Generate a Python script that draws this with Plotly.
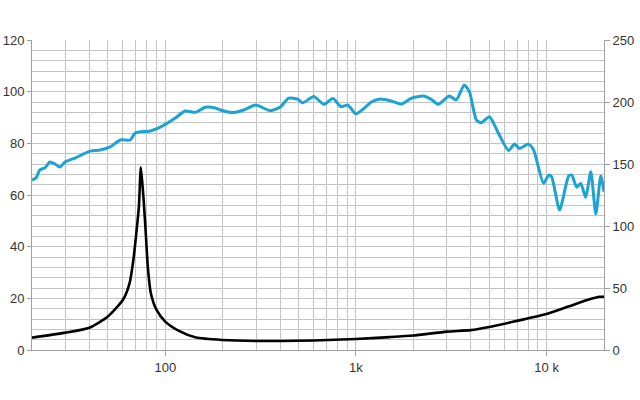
import plotly.graph_objects as go

# SPL response (dB, left axis)
spl_freq = [20, 21, 22, 23.4, 24.8, 26.4, 28, 29.8, 33.6, 40.3, 45.5, 51.4, 58, 65.5, 69.6,
            83.4, 94.1, 113, 127, 144, 162, 183, 195, 225, 258, 298, 357, 403, 444, 495,
            526, 601, 679, 757, 834, 908, 1000, 1102, 1199, 1321, 1528, 1725, 1946, 2253,
            2483, 2704, 3085, 3358, 3700, 3935, 4285, 4550, 5012, 5588, 6310, 6790, 7215,
            8040, 8550, 9640, 10250, 10620, 11700, 13060, 13550, 14390, 15100, 16040,
            17050, 18120, 19240, 20000]
spl_db = [65.8, 66.6, 69.7, 70.5, 72.8, 72.0, 70.8, 72.8, 74.3, 77.0, 77.4, 78.6, 81.3, 81.3, 84.0,
          84.8, 86.3, 89.8, 92.5, 92.0, 94.0, 93.7, 92.9, 91.9, 92.9, 94.8, 92.6, 94.2, 97.5, 97.1,
          95.7, 98.1, 95.1, 97.4, 94.2, 94.8, 91.4, 93.5, 95.9, 97.1, 96.4, 95.2, 97.4, 98.3,
          97.0, 95.1, 98.3, 96.8, 102.6, 100.0, 89.0, 88.0, 90.3, 83.9, 77.2, 79.7, 78.0,
          79.7, 77.4, 64.5, 67.7, 67.1, 54.2, 67.4, 67.7, 63.0, 64.5, 59.1,
          69.0, 52.6, 67.4, 61.3]

# Impedance (ohm, right axis)
imp_freq = [20, 30, 40, 50, 60, 65, 68, 70.5, 72.7, 74.5, 77, 79, 81, 84, 90, 100, 118, 145,
            200, 300, 400, 600, 1000, 1500, 2000, 3000, 4000, 5000, 7000, 10000, 13000,
            16500, 19000, 20000]
imp_ohm = [10.0, 14.0, 18.0, 27.0, 40.5, 54.0, 72.5, 94.4, 115.4, 147.3, 121.0, 94.4, 67.1,
           45.8, 32.3, 22.9, 15.4, 10.0, 8.1, 7.3, 7.3, 7.7, 8.9, 10.4, 11.7, 14.8, 16.0, 18.5,
           23.5, 29.0, 35.0, 40.5, 42.9, 42.9]

left_ticks = [0, 20, 40, 60, 80, 100, 120]
right_ticks = [0, 50, 100, 150, 200, 250]
x_tickvals = [100, 1000, 10000]
x_ticktext = ["100", "1k", "10 k"]
x_minor = [20, 30, 40, 50, 60, 70, 80, 90, 200, 300, 400, 500, 600, 700, 800, 900,
           2000, 3000, 4000, 5000, 6000, 7000, 8000, 9000, 20000]

grid = "#c4c4c4"
axis_col = "#a0a0a0"
font = dict(family="Liberation Sans, Arial, sans-serif", size=13, color="#333333")

fig = go.Figure()
fig.add_trace(go.Scatter(x=spl_freq, y=spl_db, mode="lines",
                         line=dict(color="#1ba3d3", width=3, shape="spline", smoothing=0.6),
                         showlegend=False, yaxis="y"))
fig.add_trace(go.Scatter(x=imp_freq, y=imp_ohm, mode="lines",
                         line=dict(color="#000000", width=2.6, shape="spline", smoothing=0.6),
                         showlegend=False, yaxis="y2"))

fig.update_layout(
    width=640, height=400,
    margin=dict(l=32, r=36, t=40, b=50),
    paper_bgcolor="white", plot_bgcolor="white",
    font=font,
    xaxis=dict(type="log", range=[1.30103, 4.30103], automargin=False,
               tickvals=x_tickvals, ticktext=x_ticktext,
               showgrid=True, gridcolor=grid, gridwidth=1,
               showline=True, linecolor=axis_col, linewidth=1,
               ticks="outside", ticklen=5, tickcolor=axis_col,
               minor=dict(tickvals=x_minor, showgrid=True, gridcolor=grid, gridwidth=1, ticks=""),
               zeroline=False),
    yaxis=dict(range=[0, 120], tickvals=left_ticks, automargin=False,
               showgrid=True, gridcolor=grid, gridwidth=1,
               showline=True, linecolor=axis_col, linewidth=1,
               ticks="outside", ticklen=4, tickcolor=axis_col,
               minor=dict(dtick=4, showgrid=True, gridcolor=grid, gridwidth=1, ticks=""),
               zeroline=False),
    yaxis2=dict(range=[0, 250], tickvals=right_ticks, overlaying="y", side="right",
                automargin=False,
                showgrid=False, showline=True, linecolor=axis_col, linewidth=1,
                ticks="outside", ticklen=5, tickcolor=axis_col, zeroline=False),
)

fig.write_html("out.html")
